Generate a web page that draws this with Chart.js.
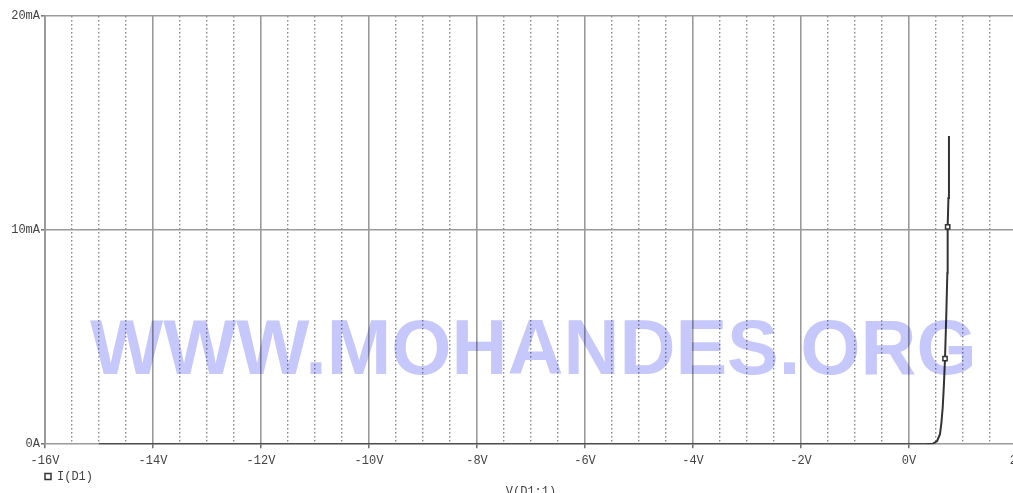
<!DOCTYPE html>
<html>
<head>
<meta charset="utf-8">
<script src="https://cdn.jsdelivr.net/npm/chart.js@4/dist/chart.umd.min.js"></script>
<style>
  html, body { margin: 0; padding: 0; background: #fff; overflow: hidden; }
  #wrap { position: relative; width: 1060px; height: 511px; }
</style>
</head>
<body>
<div id="wrap"><canvas id="iv"></canvas></div>
<script>
  'use strict';

  // diode sweep, V(D1:1) in volts, I(D1) in mA
  const voltage = [-15, -10, -5, 0, 0.3, 0.44, 0.52, 0.574, 0.6, 0.624, 0.645, 0.667, 0.69, 0.71, 0.716, 0.73, 0.74];
  const current = [0, 0, 0, 0, 0, 0.02, 0.15, 0.47, 1.0, 1.7, 2.7, 4.0, 6.0, 8.0, 10.15, 11.5, 14.4];
  const markerVolts = [0.667, 0.716];

  const xRange = { min: -16, max: 2 };
  const yRange = { min: 0, max: 20 };
  const seriesName = 'I(D1)';
  const xTitle = 'V(D1:1)';
  const watermark = 'WWW.MOHANDES.ORG';

  const mono = "'Liberation Mono', 'DejaVu Sans Mono', monospace";
  const gridGrey = '#9a9a9a';
  const legendPad = 2;

  // line the legend up with the plot's left edge, and tuck legend + title up under the axis
  const footerShift = {
    id: 'footerShift',
    afterLayout(chart) {
      const area = chart.chartArea;
      const lg = chart.legend;
      if (lg) {
        lg.left = area.left - legendPad;
        lg.top -= 4;
        lg.bottom -= 4;
      }
      const tb = chart.titleBlock;
      if (tb) {
        const h = tb.height;
        tb.top = area.bottom + 40;
        tb.bottom = tb.top + h;
        tb.left = area.left;
        tb.right = area.right;
        tb.width = area.right - area.left;
      }
    }
  };

  const watermarkPlugin = {
    id: 'watermark',
    afterDatasetsDraw(chart) {
      const ctx = chart.ctx;
      ctx.save();
      ctx.globalCompositeOperation = 'multiply';
      ctx.fillStyle = '#c6c8fb';
      ctx.font = "bold 77.5px 'Liberation Sans', Arial, sans-serif";
      ctx.textBaseline = 'alphabetic';
      ctx.fillText(watermark, 90, 374);
      ctx.restore();
    }
  };

  new Chart(document.getElementById('iv'), {
    type: 'scatter',
    data: {
      datasets: [{
        label: seriesName,
        data: voltage.map((v, i) => ({ x: v, y: current[i] })),
        showLine: true,
        borderColor: '#333',
        borderWidth: 2,
        backgroundColor: '#fff',
        pointStyle: 'rect',
        pointBorderColor: '#333',
        pointBackgroundColor: '#fff',
        pointBorderWidth: 1.5,
        pointRadius: (c) => (markerVolts.includes(voltage[c.dataIndex]) ? 3 : 0),
        pointHoverRadius: 0,
        tension: 0
      }]
    },
    options: {
      responsive: true,
      maintainAspectRatio: false,
      animation: false,
      events: [],
      layout: { padding: { top: 16, left: 0, right: 43, bottom: 0 } },
      plugins: {
        legend: {
          display: true,
          position: 'bottom',
          align: 'start',
          labels: {
            color: '#444',
            font: { family: mono, size: 12 },
            usePointStyle: true,
            boxWidth: 6,
            boxHeight: 6,
            padding: legendPad
          }
        },
        title: {
          display: true,
          position: 'bottom',
          text: xTitle,
          color: '#444',
          font: { family: mono, size: 12, weight: 'normal' },
          padding: { top: 0, bottom: 0 }
        },
        tooltip: { enabled: false }
      },
      scales: {
        x: {
          type: 'linear',
          min: xRange.min,
          max: xRange.max,
          grid: { color: gridGrey, lineWidth: 1.6, tickLength: 4, tickColor: '#777' },
          border: { display: false },
          ticks: {
            stepSize: 2,
            color: '#444',
            padding: 5,
            maxRotation: 0,
            font: { family: mono, size: 12 },
            callback: (v) => v + 'V'
          }
        },
        xm: {
          type: 'linear',
          position: 'top',
          min: xRange.min,
          max: xRange.max,
          grid: {
            drawTicks: false,
            lineWidth: 1.4,
            color: (c) => (c.tick && Math.abs(c.tick.value % 2) < 1e-6 ? 'rgba(0,0,0,0)' : '#8a8a8a')
          },
          border: { display: false, dash: [1.5, 2.5] },
          ticks: { display: false, stepSize: 0.5 }
        },
        y: {
          min: yRange.min,
          max: yRange.max,
          afterFit: (s) => { s.width = 45; },
          grid: { color: gridGrey, lineWidth: 1.6, tickLength: 4, tickColor: '#777' },
          border: { color: gridGrey, width: 2 },
          ticks: {
            stepSize: 10,
            color: '#444',
            padding: 1,
            font: { family: mono, size: 12 },
            callback: (v) => (v === 0 ? '0A' : v + 'mA')
          }
        }
      }
    },
    plugins: [footerShift, watermarkPlugin]
  });
</script>
</body>
</html>
